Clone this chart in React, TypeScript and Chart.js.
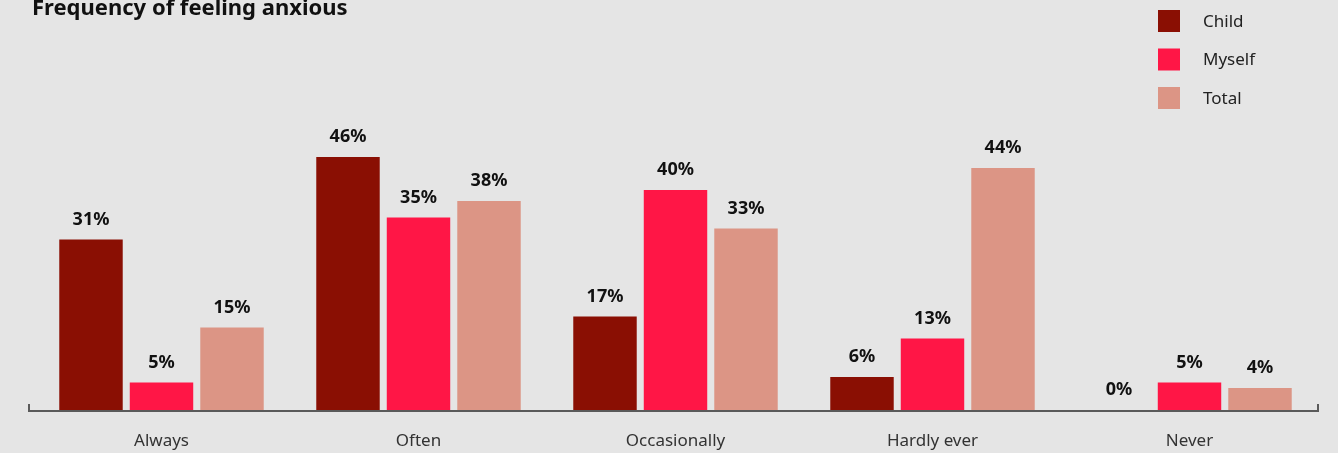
import React, { useEffect, useRef } from "react";
import { Chart, registerables } from "chart.js";

Chart.register(...registerables);

const categories = ["Always", "Often", "Occasionally", "Hardly ever", "Never"];
const childValues = [31, 46, 17, 6, 0];
const myselfValues = [5, 35, 40, 13, 5];
const totalValues = [15, 38, 33, 44, 4];
const seriesNames = ["Child", "Myself", "Total"];
const seriesColors = ["#8a0f03", "#ff1646", "#dc9585"];

const FONT = "'Noto Sans', 'DejaVu Sans', sans-serif";

const valueLabels = {
  id: "valueLabels",
  afterDatasetsDraw(chart: any) {
    const ctx = chart.ctx;
    ctx.save();
    ctx.font = `bold 18px ${FONT}`;
    ctx.fillStyle = "#111111";
    ctx.textAlign = "center";
    ctx.textBaseline = "alphabetic";
    chart.data.datasets.forEach((ds: any, i: number) => {
      const meta = chart.getDatasetMeta(i);
      meta.data.forEach((bar: any, j: number) => {
        ctx.fillText(`${ds.data[j]}%`, bar.x, bar.y - 15);
      });
    });
    ctx.restore();
  },
};

const axisAndLegend = {
  id: "axisAndLegend",
  afterDraw(chart: any) {
    const ctx = chart.ctx;
    const { bottom, right } = chart.chartArea;
    ctx.save();
    // baseline with small upward end ticks
    ctx.strokeStyle = "#5a5a5a";
    ctx.lineWidth = 2;
    ctx.beginPath();
    ctx.moveTo(29, bottom - 6);
    ctx.lineTo(29, bottom + 1);
    ctx.lineTo(right, bottom + 1);
    ctx.lineTo(right, bottom - 6);
    ctx.stroke();

    // title
    ctx.font = `bold 22px ${FONT}`;
    ctx.fillStyle = "#111111";
    ctx.textAlign = "left";
    ctx.textBaseline = "alphabetic";
    ctx.fillText("Frequency of feeling anxious", 32, 15);

    // legend
    ctx.font = `17px ${FONT}`;
    ctx.textBaseline = "middle";
    seriesNames.forEach((name, i) => {
      const y = 10 + i * 38.5;
      ctx.fillStyle = seriesColors[i];
      ctx.fillRect(1158, y, 22, 22);
      ctx.fillStyle = "#222222";
      ctx.fillText(name, 1203, y + 12);
    });
    ctx.restore();
  },
};

export default function App() {
  const canvasRef = useRef<HTMLCanvasElement | null>(null);

  useEffect(() => {
    const canvas = canvasRef.current;
    if (!canvas) return;
    const chart = new Chart(canvas, {
      type: "bar",
      data: {
        labels: categories,
        datasets: [childValues, myselfValues, totalValues].map((values, i) => ({
          label: seriesNames[i],
          data: values,
          backgroundColor: seriesColors[i],
          borderWidth: 0,
          categoryPercentage: 0.823,
          barPercentage: 0.9,
        })),
      },
      options: {
        animation: false,
        responsive: false,
        maintainAspectRatio: false,
        layout: { padding: { left: 33, right: 20, top: 135, bottom: 0 } },
        plugins: {
          legend: { display: false },
          tooltip: { enabled: false },
          title: { display: false },
        },
        scales: {
          x: {
            grid: { display: false, drawTicks: false },
            border: { display: false },
            ticks: {
              color: "#333333",
              font: { family: FONT, size: 17 },
              padding: 21,
              maxRotation: 0,
            },
            afterFit(scale: any) {
              scale.height = 43;
            },
          },
          y: {
            display: false,
            min: 0,
            max: 50,
          },
        },
      },
      plugins: [valueLabels, axisAndLegend],
    });
    return () => chart.destroy();
  }, []);

  return (
    <div
      style={{
        position: "fixed",
        left: 0,
        top: 0,
        width: 1338,
        height: 453,
        background: "#e5e5e5",
      }}
    >
      <canvas ref={canvasRef} width={1338} height={453} style={{ display: "block" }} />
    </div>
  );
}
